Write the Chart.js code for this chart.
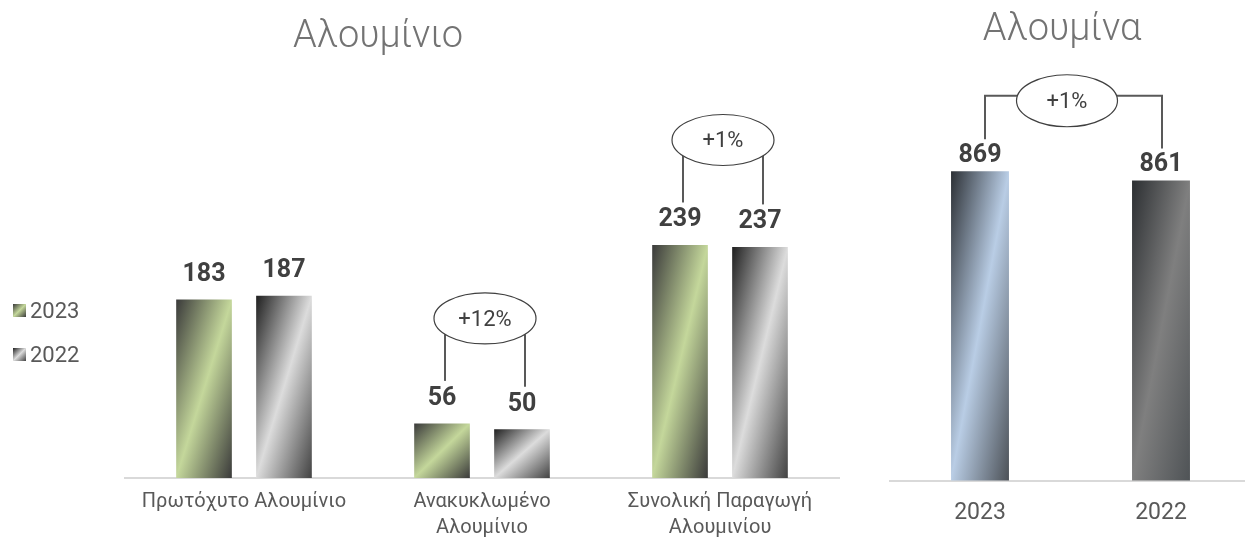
<!DOCTYPE html>
<html lang="el">
<head>
<meta charset="utf-8">
<title>Αλουμίνιο / Αλουμίνα</title>
<script src="https://cdn.jsdelivr.net/npm/chart.js@4.4.1/dist/chart.umd.min.js"></script>
<style>
  html, body { margin: 0; padding: 0; background: #fff; overflow: hidden; }
  #wrap { position: relative; width: 1245px; height: 540px; overflow: hidden; }
  #aluminiumChart { position: absolute; left: 0; top: 0; }
  #aluminaChart { position: absolute; left: 870px; top: 0; }
</style>
</head>
<body>
<div id="wrap">
  <canvas id="aluminiumChart" width="870" height="555"></canvas>
  <canvas id="aluminaChart" width="390" height="564"></canvas>
</div>
<script>
// ---- data ----
const aluCategories = ["Πρωτόχυτο Αλουμίνιο", ["Ανακυκλωμένο", "Αλουμίνιο"], ["Συνολική Παραγωγή", "Αλουμινίου"]];
const seriesNames = ["2023", "2022"];
const alu2023 = [183, 56, 239];
const alu2022 = [187, 50, 237];
const aluBubbleAt = [1, 2]; // categories that get a % change bubble

const aluminaYears = ["2023", "2022"];
const aluminaValues = [869, 861];

// ---- colours ----
const GREEN = ["#3a3a3a", "#c4d79b", "#3a3a3a"];
const SILVER = ["#1f1f1f", "#dcdcdc", "#424242"];
const BLUE = ["#2c3035", "#b9cde5", "#4c5157"];
const GRAPHITE = ["#2c2f32", "#7f7f7f", "#4f5356"];

Chart.defaults.font.family = "Roboto, 'Noto Sans', sans-serif";

// diagonal "metal" fill: light streak runs from bottom-left to top-right corner
function diagGradient(ctx, x0, y0, w, h, stops) {
  const s = (2 * w * h) / (w * w + h * h);
  const g = ctx.createLinearGradient(x0, y0, x0 + h * s, y0 + w * s);
  g.addColorStop(0, stops[0]);
  g.addColorStop(0.5, stops[1]);
  g.addColorStop(1, stops[2]);
  return g;
}

// scriptable backgroundColor: works out the bar box from the scales
function barFill(pickStops, nSets, catPct, barPct) {
  return (c) => {
    const chart = c.chart;
    const xs = chart.scales.x, ys = chart.scales.y;
    const stops = pickStops(c);
    if (!chart.chartArea || !xs || !ys || c.dataIndex === undefined) return stops[1];
    const cat = xs.width / chart.data.labels.length;
    const slot = (cat * catPct) / nSets;
    const w = slot * barPct;
    const cx = xs.getPixelForValue(c.dataIndex) + (c.datasetIndex - (nSets - 1) / 2) * slot;
    const top = ys.getPixelForValue(c.raw);
    return diagGradient(chart.ctx, cx - w / 2, top, w, ys.getBasePixel() - top, stops);
  };
}

function pctLabel(a, b) {
  const p = Math.round(((a - b) / b) * 100);
  return (p >= 0 ? "+" : "") + p + "%";
}

function drawBubble(ctx, cx, cy, rx, ry, text) {
  ctx.beginPath();
  ctx.ellipse(cx, cy, rx, ry, 0, 0, Math.PI * 2);
  ctx.fillStyle = "#fff";
  ctx.fill();
  ctx.lineWidth = 1.2;
  ctx.strokeStyle = "#404040";
  ctx.stroke();
  ctx.font = "22px Roboto";
  ctx.fillStyle = "#404040";
  ctx.textAlign = "center";
  ctx.textBaseline = "middle";
  ctx.fillText(text, cx, cy + 2);
}

// ---- plugins ----
const chartTitle = {
  id: "chartTitle",
  afterDraw(chart, args, opts) {
    const ctx = chart.ctx;
    ctx.save();
    ctx.font = "300 38px Roboto";
    ctx.fillStyle = "#737373";
    ctx.textAlign = "center";
    ctx.textBaseline = "alphabetic";
    ctx.fillText(opts.text, opts.x, opts.y);
    ctx.restore();
  },
};

const valueLabels = {
  id: "valueLabels",
  afterDatasetsDraw(chart, args, opts) {
    const ctx = chart.ctx;
    ctx.save();
    ctx.font = "bold 25px Roboto";
    ctx.fillStyle = "#404040";
    ctx.textAlign = "center";
    ctx.textBaseline = "alphabetic";
    chart.data.datasets.forEach((ds, di) => {
      chart.getDatasetMeta(di).data.forEach((el, i) => {
        ctx.fillText(String(ds.data[i]), el.x, el.y - opts.gap);
      });
    });
    ctx.restore();
  },
};

const sideLegend = {
  id: "sideLegend",
  afterDraw(chart, args, opts) {
    const ctx = chart.ctx;
    ctx.save();
    chart.data.datasets.forEach((ds, i) => {
      const y = opts.top + i * opts.step;
      ctx.fillStyle = diagGradient(ctx, opts.x, y, 13, 13, opts.stops[i]);
      ctx.fillRect(opts.x, y, 13, 13);
      ctx.font = "22px Roboto";
      ctx.fillStyle = "#595959";
      ctx.textAlign = "left";
      ctx.textBaseline = "alphabetic";
      ctx.fillText(ds.label, opts.x + 17, y + 14);
    });
    ctx.restore();
  },
};

// % change bubbles on paired bars (left chart)
const pairBubbles = {
  id: "pairBubbles",
  afterDatasetsDraw(chart) {
    const ctx = chart.ctx;
    const a = chart.getDatasetMeta(0).data;
    const b = chart.getDatasetMeta(1).data;
    const rx = 51, ry = 25.5;
    ctx.save();
    aluBubbleAt.forEach((i) => {
      const cx = (a[i].x + b[i].x) / 2 + 3;
      const cy = Math.min(a[i].y, b[i].y) - 105;
      ctx.strokeStyle = "#595959";
      ctx.lineWidth = 2;
      [a[i], b[i]].forEach((el) => {
        const lx = el.x + 3;
        const dx = (lx - cx) / rx;
        const edge = cy + ry * Math.sqrt(Math.max(0, 1 - dx * dx));
        ctx.beginPath();
        ctx.moveTo(lx, edge);
        ctx.lineTo(lx, el.y - 42.5);
        ctx.stroke();
      });
      drawBubble(ctx, cx, cy, rx, ry, pctLabel(alu2023[i], alu2022[i]));
    });
    ctx.restore();
  },
};

// bracket bubble between the two alumina bars
const bracketBubble = {
  id: "bracketBubble",
  afterDatasetsDraw(chart) {
    const ctx = chart.ctx;
    const [p, q] = chart.getDatasetMeta(0).data;
    const rx = 50.5, ry = 26;
    const cx = (p.x + q.x) / 2 - 3.5;
    const cy = Math.min(p.y, q.y) - 70.5;
    const ly = cy - 5;
    ctx.save();
    ctx.strokeStyle = "#595959";
    ctx.lineWidth = 2;
    ctx.beginPath();
    ctx.moveTo(cx - rx + 2, ly);
    ctx.lineTo(p.x + 5, ly);
    ctx.lineTo(p.x + 5, p.y - 32);
    ctx.moveTo(cx + rx - 2, ly);
    ctx.lineTo(q.x + 1, ly);
    ctx.lineTo(q.x + 1, q.y - 32);
    ctx.stroke();
    drawBubble(ctx, cx, cy, rx, ry, pctLabel(aluminaValues[0], aluminaValues[1]));
    ctx.restore();
  },
};

// ---- Αλουμίνιο ----
const ALU_CAT = 0.672, ALU_BAR = 0.696;
new Chart(document.getElementById("aluminiumChart"), {
  type: "bar",
  data: {
    labels: aluCategories,
    datasets: [
      {
        label: seriesNames[0],
        data: alu2023,
        backgroundColor: barFill(() => GREEN, 2, ALU_CAT, ALU_BAR),
      },
      {
        label: seriesNames[1],
        data: alu2022,
        backgroundColor: barFill(() => SILVER, 2, ALU_CAT, ALU_BAR),
      },
    ],
  },
  options: {
    responsive: false,
    animation: false,
    events: [],
    categoryPercentage: ALU_CAT,
    barPercentage: ALU_BAR,
    layout: { padding: { left: 125, right: 31, top: 88, bottom: 3 } },
    plugins: {
      legend: { display: false },
      tooltip: { enabled: false },
      chartTitle: { text: "Αλουμίνιο", x: 378, y: 46.5 },
      valueLabels: { gap: 18.5 },
      sideLegend: { x: 13, top: 304, step: 44, stops: [GREEN, SILVER] },
    },
    scales: {
      x: {
        grid: { display: false, drawTicks: false },
        border: { color: "#d9d9d9", width: 2 },
        ticks: {
          color: "#595959",
          font: { size: 20, lineHeight: 1.3 },
          padding: 11,
          maxRotation: 0,
          autoSkip: false,
        },
      },
      y: { display: false, min: 0, max: 400 },
    },
  },
  plugins: [chartTitle, valueLabels, sideLegend, pairBubbles],
});

// ---- Αλουμίνα ----
new Chart(document.getElementById("aluminaChart"), {
  type: "bar",
  data: {
    labels: aluminaYears,
    datasets: [
      {
        label: "Αλουμίνα",
        data: aluminaValues,
        backgroundColor: barFill((c) => (c.dataIndex === 0 ? BLUE : GRAPHITE), 1, 1, 0.32),
      },
    ],
  },
  options: {
    responsive: false,
    animation: false,
    events: [],
    categoryPercentage: 1,
    barPercentage: 0.32,
    layout: { padding: { left: 19.5, right: 8.5, top: 135.6, bottom: 18.8 } },
    plugins: {
      legend: { display: false },
      tooltip: { enabled: false },
      chartTitle: { text: "Αλουμίνα", x: 192, y: 40 },
      valueLabels: { gap: 9 },
    },
    scales: {
      x: {
        grid: { display: false, drawTicks: false },
        border: { color: "#d9d9d9", width: 2 },
        ticks: {
          color: "#595959",
          font: { size: 23, lineHeight: 1.2 },
          padding: 18.5,
          maxRotation: 0,
        },
      },
      y: { display: false, min: 600, max: 900 },
    },
  },
  plugins: [chartTitle, valueLabels, bracketBubble],
});
</script>
</body>
</html>
